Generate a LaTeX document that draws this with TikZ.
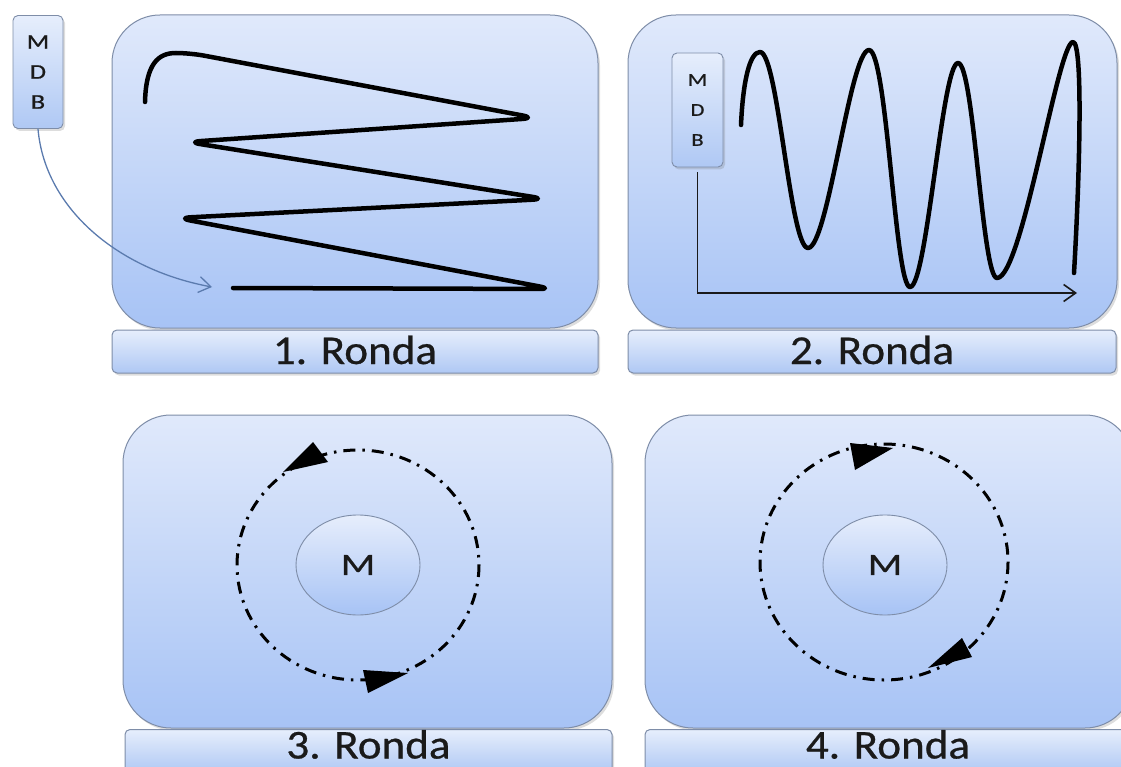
\documentclass[tikz,border=0pt]{standalone}
\usepackage{fontspec}
\setmainfont{Carlito}
\newfontfamily\heavyfont{Carlito}[FakeBold=0.6]
\usetikzlibrary{arrows.meta,shadows,shapes.geometric}

\definecolor{panelTop}{HTML}{E0E9FB}
\definecolor{panelBot}{HTML}{A7C3F5}
\definecolor{barTop}{HTML}{E6EEFC}
\definecolor{barBot}{HTML}{AFC8F4}
\definecolor{edgegray}{HTML}{7E8DA8}
\definecolor{linkblue}{HTML}{5B7BAE}
\definecolor{ink}{HTML}{1A1A1A}

% wide lettering
\newcommand{\widetext}[2]{\scalebox{#1}[1]{#2}}

\tikzset{
  softshadow/.style={drop shadow={shadow xshift=2pt, shadow yshift=-2.5pt, opacity=0.22, fill=black!60}},
  panel/.style={draw=edgegray, line width=1pt, rounded corners=48pt,
    top color=panelTop, bottom color=panelBot, softshadow,
    minimum height=313pt, inner sep=0pt},
  labelfont/.style={text=ink, text height=25pt, text depth=0pt,
    font=\heavyfont\fontsize{41}{41}\selectfont},
  labelbar/.style={draw=edgegray, line width=1pt, rounded corners=5pt,
    top color=barTop, bottom color=barBot, softshadow,
    minimum height=43pt, inner sep=0pt, labelfont},
  caption/.style={inner sep=0pt, labelfont},
  mdbbox/.style={draw=edgegray, line width=0.9pt, rounded corners=5pt,
    top color=barTop, bottom color=barBot, softshadow,
    inner sep=0pt, align=center, text=ink},
  core/.style={ellipse, draw=edgegray, line width=0.9pt,
    top color=panelTop!80!white, bottom color=panelBot,
    minimum width=124pt, minimum height=100pt, inner sep=0pt,
    text=ink, font=\heavyfont\fontsize{31}{31}\selectfont},
  thickline/.style={line width=4.5pt, draw=black, line cap=round, line join=round},
  orbit/.style={line width=3pt, draw=black, dash pattern=on 12pt off 7pt on 2.5pt off 7pt},
  headfill/.style={fill=black},
  linkline/.style={draw=linkblue, line width=1.3pt, -{Straight Barb[length=12pt,width=16pt,line width=1.3pt]}},
  axisline/.style={draw=ink, line width=1.8pt, -{Straight Barb[length=12pt,width=17pt,line width=1.6pt]}}
}

\begin{document}
\begin{tikzpicture}[x=1pt, y=-1pt]
\useasboundingbox (0,0) rectangle (1121,767);
\clip (0,0) rectangle (1121,767);

% ---- round 1: meander ----
\node[panel, minimum width=486pt] (p1) at (355,171.5) {};
\node[labelbar, minimum width=486pt] (b1) at (355,351.5) {\widetext{1.1}{1. Ronda}};
\node[mdbbox, minimum width=50pt, minimum height=113pt,
      font=\heavyfont\fontsize{21}{30}\selectfont] (mdb1) at (38,72) {\widetext{1.25}{M}\\\widetext{1.25}{D}\\\widetext{1.25}{B}};
\draw[thickline, rounded corners=14pt]
  (145,102) .. controls (146,64) and (158,53) .. (190,53)
  -- (536,118) -- (187,142) -- (546,199) -- (177,218) -- (553,289) -- (233,288);
\coordinate (entry1) at (212,287);
\draw[linkline] (mdb1.south) .. controls (45,210) and (120,270) .. (entry1);

% ---- round 2: wave over axes ----
\node[panel, minimum width=489pt] (p2) at (872.5,171.5) {};
\node[labelbar, minimum width=488pt] (b2) at (872,351.5) {\widetext{1.1}{2. Ronda}};
\node[mdbbox, minimum width=51pt, minimum height=114pt,
      font=\heavyfont\fontsize{18}{30}\selectfont] (mdb2) at (697.5,110) {\widetext{1.25}{M}\\\widetext{1.25}{D}\\\widetext{1.25}{B}};
\coordinate (xend) at (1077,293);
\draw[axisline, shorten <=5pt] (mdb2.south) |- (xend);
\draw[thickline]
  (741,125) .. controls (743,80) and (750,52) .. (760,52)
  .. controls (778,52) and (790,248) .. (808,248)
  .. controls (828,248) and (850,50) .. (869,50)
  .. controls (887,50) and (895,287) .. (910,287)
  .. controls (927,287) and (942,63) .. (958,63)
  .. controls (974,63) and (982,278) .. (997,278)
  .. controls (1022,278) and (1058,42) .. (1073,42)
  .. controls (1083,42) and (1080,170) .. (1074,273);

% ---- round 3: counter-clockwise orbit ----
\node[panel, minimum width=489pt] (p3) at (367.5,571.5) {};
\node[labelbar, minimum width=487pt] (b3) at (368.5,751) {};
\node[caption] (t3) at (368.5,746) {\widetext{1.1}{3. Ronda}};
\node[core] (m3) at (358,565) {\widetext{1.3}{M}};
\draw[orbit] (358,565) ellipse [x radius=121, y radius=115];
\fill[headfill] (283,472) -- (313,442) -- (328,462) -- cycle;
\fill[headfill] (408,673) -- (363,670) -- (368,693) -- cycle;

% ---- round 4: clockwise orbit ----
\node[panel, minimum width=488pt] (p4) at (889,571.5) {};
\node[labelbar, minimum width=488pt] (b4) at (889,751) {};
\node[caption] (t4) at (888,746) {\widetext{1.1}{4. Ronda}};
\node[core] (m4) at (885,565) {\widetext{1.3}{M}};
\draw[orbit] (884,562) ellipse [x radius=124, y radius=118];
\fill[headfill] (893,448) -- (850,443) -- (855,470) -- cycle;
\fill[headfill] (928,668) -- (962,638) -- (972,657) -- cycle;
\end{tikzpicture}
\end{document}
